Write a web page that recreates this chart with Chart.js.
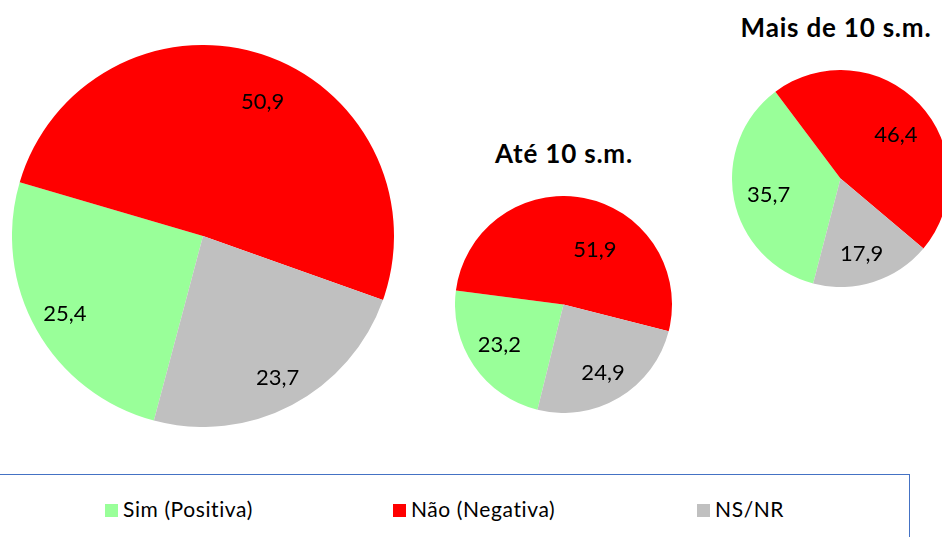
<!DOCTYPE html>
<html>
<head>
<meta charset="utf-8">
<script src="https://cdn.jsdelivr.net/npm/chart.js@4"></script>
<style>
  html, body { margin: 0; padding: 0; background: #fff; }
  body { width: 942px; height: 537px; overflow: hidden; position: relative; font-family: Lato, "Noto Sans", sans-serif; }
  .pie { position: absolute; }
  .title { position: absolute; font-weight: bold; font-size: 26px; letter-spacing: 0.8px; line-height: 1.2; color: #000; transform: translateX(-50%); white-space: nowrap; }
  #legendBox { position: absolute; left: -2px; top: 474px; width: 910px; height: 80px; border: 1px solid #4472c4; }
  .item { position: absolute; top: 21px; font-size: 21px; letter-spacing: 0.6px; line-height: 1.2; color: #000; white-space: nowrap; }
  .item span.sw { display: inline-block; width: 13px; height: 13px; margin-right: 5px; vertical-align: 0px; }
</style>
</head>
<body>

<div class="pie" style="left:12px; top:45px; width:382px; height:382px;"><canvas id="pieTotal"></canvas></div>
<div class="pie" style="left:455px; top:196px; width:217px; height:217px;"><canvas id="pieAte"></canvas></div>
<div class="pie" style="left:732px; top:70px; width:217px; height:217px;"><canvas id="pieMais"></canvas></div>

<div class="title" style="left:564px; top:138px;">Até 10 s.m.</div>
<div class="title" style="left:836px; top:12px;">Mais de 10 s.m.</div>

<div id="legendBox"></div>

<script>
const categories = ['Sim (Positiva)', 'Não (Negativa)', 'NS/NR'];
const colors = ['#99ff99', '#ff0000', '#c0c0c0'];

const totalValues = [25.4, 50.9, 23.7];
const ateValues = [23.2, 51.9, 24.9];
const maisValues = [35.7, 46.4, 17.9];

// where the value labels sit: fraction of radius and a small angle nudge (deg)
const labelSpots = {
    pieTotal: { r: [0.83, 0.77, 0.84], shift: [0, 6, 0] },
    pieAte:   { r: [0.70, 0.58, 0.73], shift: [2, 19, 1] },
    pieMais:  { r: [0.68, 0.65, 0.72], shift: [-2, 5, 2] }
};

const valueLabels = {
    id: 'valueLabels',
    afterDatasetsDraw(chart) {
        const ctx = chart.ctx;
        const spot = labelSpots[chart.canvas.id];
        const meta = chart.getDatasetMeta(0);
        ctx.save();
        ctx.font = '22px Lato, "Noto Sans", sans-serif';
        ctx.fillStyle = '#000';
        ctx.textAlign = 'center';
        ctx.textBaseline = 'middle';
        meta.data.forEach((arc, i) => {
            const p = arc.getProps(['x', 'y', 'startAngle', 'endAngle', 'outerRadius'], true);
            const a = (p.startAngle + p.endAngle) / 2 + spot.shift[i] * Math.PI / 180;
            const r = p.outerRadius * spot.r[i];
            const v = chart.data.datasets[0].data[i];
            ctx.fillText(v.toFixed(1).replace('.', ','), p.x + Math.cos(a) * r, p.y + Math.sin(a) * r);
        });
        ctx.restore();
    }
};

function makePie(id, values, rotation) {
    new Chart(document.getElementById(id), {
        type: 'pie',
        data: {
            labels: categories,
            datasets: [{
                data: values,
                backgroundColor: colors,
                borderWidth: 0
            }]
        },
        options: {
            responsive: true,
            maintainAspectRatio: false,
            animation: false,
            rotation: rotation,
            layout: { padding: 0 },
            plugins: {
                legend: { display: false },
                tooltip: { enabled: false }
            }
        },
        plugins: [valueLabels]
    });
}

makePie('pieTotal', totalValues, 194.9);
makePie('pieAte', ateValues, 193.9);
makePie('pieMais', maisValues, 194.6);

// legend
const legendBox = document.getElementById('legendBox');
const legendX = [106, 394, 698];
categories.forEach((c, i) => {
    legendBox.innerHTML += `<div class="item" style="left:${legendX[i]}px"><span class="sw" style="background:${colors[i]}"></span>${c}</div>`;
});
</script>
</body>
</html>
